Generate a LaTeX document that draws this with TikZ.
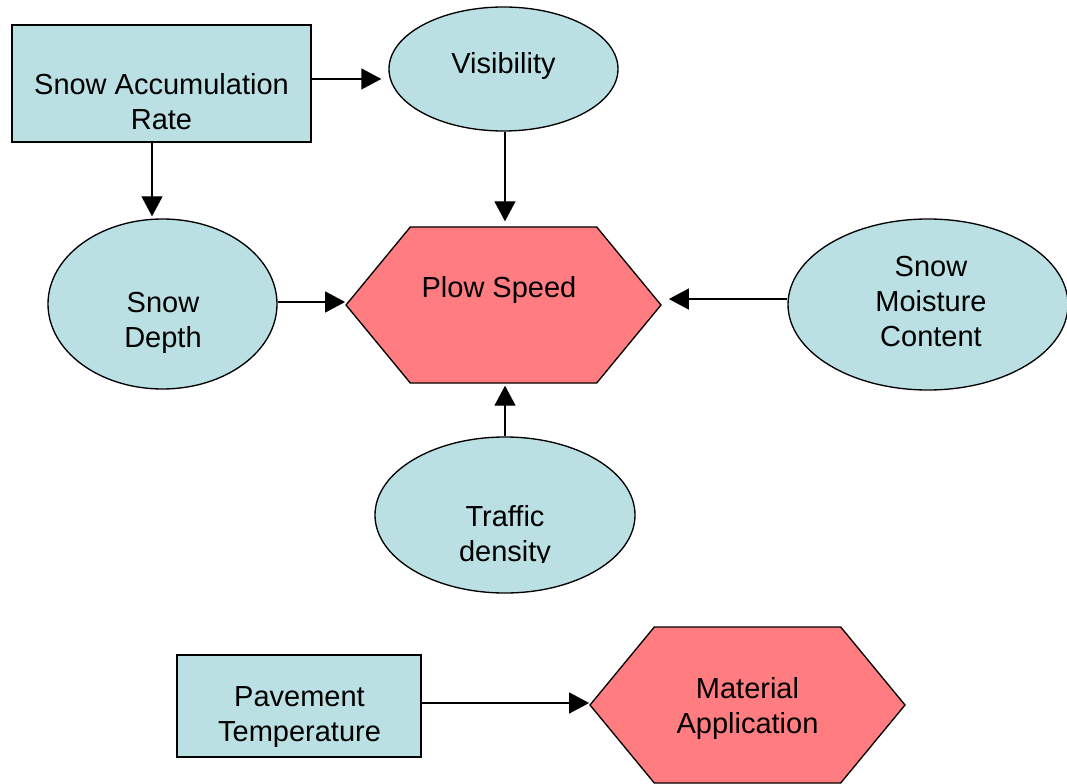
\documentclass[tikz,border=0pt]{standalone}
\usepackage{fontspec}
\setmainfont{Liberation Sans}
\usetikzlibrary{shapes.geometric, shapes.symbols, arrows.meta, positioning}
\definecolor{inputblue}{RGB}{187,224,227}
\definecolor{outputred}{RGB}{255,124,128}

\begin{document}
\begin{tikzpicture}[
    x=0.75pt, y=-0.75pt,
    factor/.style={ellipse, draw=black, line width=1pt, fill=inputblue, inner sep=0pt},
    source/.style={rectangle, draw=black, line width=1pt, fill=inputblue, inner sep=0pt},
    outcome/.style={signal, signal to=east and west, signal pointer angle=101, draw=black, line width=1pt, fill=outputred, inner sep=0pt, minimum width=236.25pt, minimum height=117pt},
    txt/.style={align=center, inner sep=0pt, font=\fontsize{21.75}{26.25}\selectfont},
    arrow/.style={-{Triangle[length=15pt, width=15.75pt]}, line width=1pt}
]
\useasboundingbox (0,0) rectangle (1067,784);

% shapes
\node[source, minimum width=224.25pt, minimum height=87.75pt] (accum) at (161.5,83.5) {};
\node[factor, minimum width=171.75pt, minimum height=93pt] (vis) at (503.5,69) {};
\node[factor, minimum width=171.75pt, minimum height=127.5pt] (depth) at (162.5,304) {};
\node[outcome] (plow) at (503.5,305) {};
\node[factor, minimum width=210pt, minimum height=128.25pt] (moist) at (928,304.5) {};
\node[factor, minimum width=195pt, minimum height=117pt] (traffic) at (505,515) {};
\node[source, minimum width=183pt, minimum height=76.5pt] (pave) at (299,706) {};
\node[outcome] (mat) at (747.5,705) {};

% texts
\node[txt] (accum-txt) at (161.5,101.5) {Snow Accumulation\\Rate};
\node[txt] (vis-txt) at (503.5,66.3) {Visibility};
\node[txt] (depth-txt) at (163,322.5) {Snow\\Depth};
\node[txt] (plow-txt) at (499,290) {Plow Speed};
\node[txt] (moist-txt) at (931,302) {Snow\\Moisture\\Content};
\begin{scope}
  \clip (traffic.west |- traffic.north) rectangle (traffic.east |- 0,562);
  \node[txt] (traffic-txt) at (505,536.5) {Traffic\\density};
\end{scope}
\node[txt] (pave-txt) at (299.5,717.5) {Pavement\\Temperature};
\node[txt] (mat-txt) at (747.5,708.5) {Material\\Application};

% connectors
\draw[arrow, shorten >=5.25pt] ([yshift=3.4pt]accum.east) -- ([yshift=3.4pt]accum.east -| vis.west);
\draw[arrow, shorten >=1.5pt] ([xshift=-7.1pt]accum.south) -- ([xshift=-7.1pt]accum.south |- depth.north);
\draw[arrow, shorten >=3.75pt] ([xshift=1.1pt]vis.south) -- ([xshift=1.1pt]vis.south |- plow.north);
\draw[arrow] ([yshift=1.5pt]depth.east) -- ([yshift=1.5pt]depth.east -| plow.west);
\draw[arrow, shorten >=5.25pt] ([yshift=4.1pt]moist.west) -- ([yshift=4.1pt]moist.west -| plow.east);
\draw[arrow, shorten >=1.5pt] (traffic.north) -- (traffic.north |- plow.south);
\draw[arrow] ([yshift=2.25pt]pave.east) -- ([yshift=2.25pt]pave.east -| mat.west);

\end{tikzpicture}
\end{document}
